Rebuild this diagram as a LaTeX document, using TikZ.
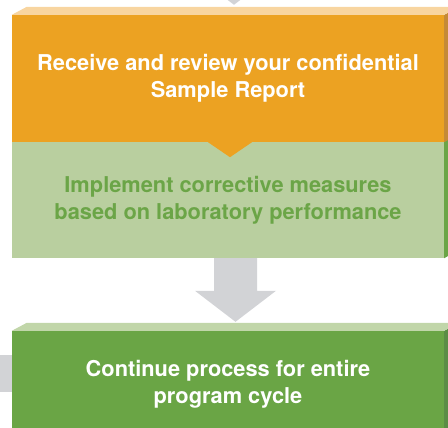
\documentclass[tikz,border=0pt]{standalone}
\usepackage{fontspec}
\setmainfont{TeX Gyre Heros}
\usepackage{xcolor}
\usetikzlibrary{calc}
\definecolor{orangefront}{HTML}{ECA222}
\definecolor{orangetop}{HTML}{F8D5A0}
\definecolor{orangeside}{HTML}{C58A37}
\definecolor{lgreenfront}{HTML}{B9CF9F}
\definecolor{lgreenside}{HTML}{6BA547}
\definecolor{dgreenfront}{HTML}{6AA545}
\definecolor{dgreentop}{HTML}{C1D6A9}
\definecolor{dgreenside}{HTML}{5B8D45}
\definecolor{arrowgray}{HTML}{D2D3D6}

\begin{document}
\begin{tikzpicture}[x=1pt, y=-1pt,
  stepbox/.style={rectangle, inner sep=0pt, minimum width=432pt, align=center,
    font=\fontsize{21.8}{27}\selectfont\bfseries},
  flowarrow/.style={fill=arrowgray}]
\useasboundingbox (0,0) rectangle (448,428);
\clip (0,0) rectangle (448,428);
\node[stepbox, fill=lgreenfront, text=lgreenside, minimum height=116pt] (implement) at (228,200)
  {Implement corrective measures\\based on laboratory performance};
\node[stepbox, fill=orangefront, text=white, minimum height=127pt] (receive) at (228,78.5)
  {Receive and review your confidential\\Sample Report};
\node[stepbox, fill=dgreenfront, text=white, minimum height=107pt] (continue) at (228,384.5)
  {Continue process for entire\\program cycle};
\fill[orangefront] ($(receive.south)+(-20,0)$) -- ($(receive.south)+(2,15)$) -- ($(receive.south)+(24,0)$) -- cycle;
\fill[lgreenside] (implement.north east) -- ++(15,-8) -- ++(0,116) -- (implement.south east) -- cycle;
\fill[orangeside] (receive.north east) -- ++(15,-8) -- ++(0,127) -- (receive.south east) -- cycle;
\fill[orangetop] (receive.north west) -- ++(15,-8) -- ++(432,0) -- (receive.north east) -- cycle;
\fill[dgreenside] (continue.north east) -- ++(15,-8) -- ++(0,107) -- (continue.south east) -- cycle;
\fill[dgreentop] (continue.north west) -- ++(15,-8) -- ++(432,0) -- (continue.north east) -- cycle;
\coordinate (abase) at ($(implement.south)+(7.5,0)$);
\coordinate (atip) at ($(continue.north)+(7.5,-9)$);
\coordinate (toptip) at ($(receive.north)+(6,-10)$);
\fill[flowarrow] ($(abase)+(-21.5,0)$) -- ($(atip)+(-21.5,-31)$) -- ($(atip)+(-40.5,-31)$) -- (atip)
  -- ($(atip)+(40.5,-31)$) -- ($(atip)+(21.5,-31)$) -- ($(abase)+(21.5,0)$) -- cycle;
\fill[flowarrow] (toptip) -- ++(-40.5,-31) -- ++(81,0) -- cycle;
\fill[flowarrow] ($(continue.west)+(-20,-30)$) rectangle ($(continue.west)+(0,7)$);
\end{tikzpicture}
\end{document}
